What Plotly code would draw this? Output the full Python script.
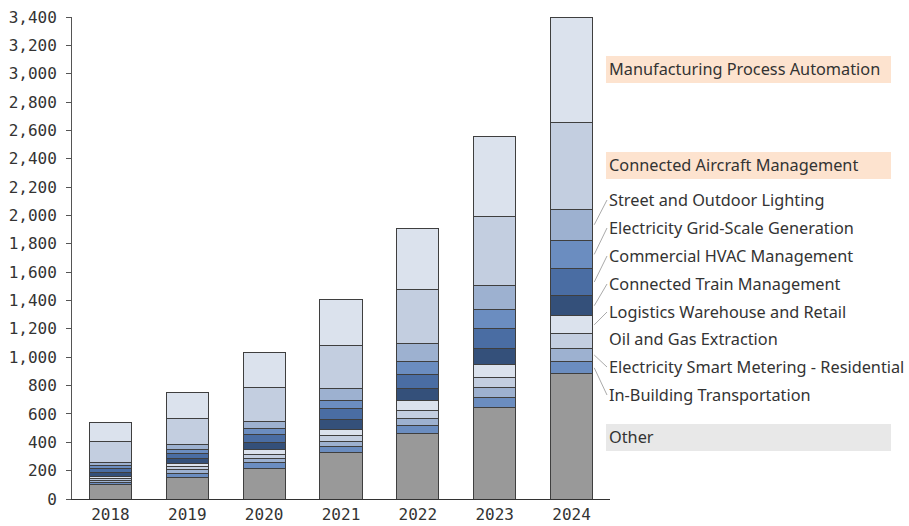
import plotly.graph_objects as go
import numpy as np

years = ["2018", "2019", "2020", "2021", "2022", "2023", "2024"]

# Installed units per application, stacked bottom to top
other = [100, 155, 216, 329, 463, 647, 882]
in_building = [16, 26, 40, 40, 52, 70, 86]
smart_metering = [16, 24, 31, 40, 56, 71, 95]
oil_gas = [14, 22, 28, 38, 56, 70, 101]
logistics = [14, 24, 31, 45, 66, 94, 129]
train = [25, 32, 52, 70, 85, 111, 141]
hvac = [30, 38, 59, 78, 103, 141, 193]
grid_scale = [24, 30, 42, 58, 92, 136, 197]
street_lighting = [20, 32, 47, 83, 122, 169, 221]
aircraft = [145, 188, 243, 305, 386, 485, 612]
manufacturing = [139, 183, 246, 324, 430, 566, 743]

series_names = [
    "Other",
    "In-Building Transportation",
    "Electricity Smart Metering - Residential",
    "Oil and Gas Extraction",
    "Logistics Warehouse and Retail",
    "Connected Train Management",
    "Commercial HVAC Management",
    "Electricity Grid-Scale Generation",
    "Street and Outdoor Lighting",
    "Connected Aircraft Management",
    "Manufacturing Process Automation",
]
series_values = [other, in_building, smart_metering, oil_gas, logistics, train,
                 hvac, grid_scale, street_lighting, aircraft, manufacturing]
series_colors = ["#999999", "#6b8dc0", "#9db1d0", "#c3cee0", "#dbe2ed", "#34507a",
                 "#4a6da3", "#6b8dc0", "#9db1d0", "#c3cee0", "#dbe2ed"]

y_ticks = list(range(0, 3401, 200))

fig = go.Figure()
for name, vals, col in zip(series_names, series_values, series_colors):
    fig.add_trace(go.Bar(
        x=years, y=vals, name=name,
        marker=dict(color=col, line=dict(color="#3f3f3f", width=1)),
        showlegend=False,
    ))

# Layout geometry (pixels)
W, H = 909, 526
L, R, T, B = 72, 299, 17, 27
plot_w = W - L - R
plot_h = H - T - B


def px_to_paper_y(py):
    return (H - B - py) / plot_h


def px_to_paper_x(px):
    return (px - L) / plot_w


# Label positions (pixel centre) in the right-hand key
label_px = {
    "Manufacturing Process Automation": 69,
    "Connected Aircraft Management": 165,
    "Street and Outdoor Lighting": 200,
    "Electricity Grid-Scale Generation": 228,
    "Commercial HVAC Management": 256,
    "Connected Train Management": 284,
    "Logistics Warehouse and Retail": 312,
    "Oil and Gas Extraction": 339,
    "Electricity Smart Metering - Residential": 367,
    "In-Building Transportation": 395,
    "Other": 437,
}
boxed = {
    "Manufacturing Process Automation": "#fde3cf",
    "Connected Aircraft Management": "#fde3cf",
    "Other": "#e8e8e8",
}
with_leader = {
    "Street and Outdoor Lighting",
    "Electricity Grid-Scale Generation",
    "Commercial HVAC Management",
    "Connected Train Management",
    "Logistics Warehouse and Retail",
    "Electricity Smart Metering - Residential",
    "In-Building Transportation",
}

label_font = dict(family="'Noto Sans', Lato, sans-serif", size=16.3, color="#333333")

shapes = []
annotations = []
box_x0, box_x1 = 606, 891
for name in series_names:
    cy = label_px[name]
    if name in boxed:
        shapes.append(dict(
            type="rect", xref="paper", yref="paper",
            x0=px_to_paper_x(box_x0), x1=px_to_paper_x(box_x1),
            y0=px_to_paper_y(cy + 14), y1=px_to_paper_y(cy - 13),
            fillcolor=boxed[name], line=dict(width=0), layer="below",
        ))
    annotations.append(dict(
        xref="paper", yref="paper", x=px_to_paper_x(607), y=px_to_paper_y(cy),
        xanchor="left", yanchor="middle", text=name, showarrow=False,
        font=label_font,
    ))

# Leader lines from the last bar's segments to their labels
last = np.array([v[-1] for v in series_values], dtype=float)
tops = np.cumsum(last)
bottoms = tops - last
bar_w = 0.55
x_edge = len(years) - 1 + bar_w / 2
x_label = (607 - L) / plot_w * len(years) - 0.5
for i, name in enumerate(series_names):
    if name not in with_leader:
        continue
    mid = (tops[i] + bottoms[i]) / 2
    ly = px_to_paper_y(label_px[name]) * 3400
    shapes.append(dict(
        type="line", xref="x", yref="y",
        x0=x_edge + 0.02, y0=mid, x1=x_label, y1=ly,
        line=dict(color="#aaaaaa", width=1),
    ))

fig.update_layout(
    barmode="stack",
    bargap=1 - bar_w,
    width=W, height=H,
    margin=dict(l=L, r=R, t=T, b=B, pad=0, autoexpand=False),
    plot_bgcolor="white",
    paper_bgcolor="white",
    shapes=shapes,
    annotations=annotations,
    xaxis=dict(
        range=[-0.5, len(years) - 0.5],
        showline=True, linecolor="#333333", linewidth=1,
        ticks="", showgrid=False, zeroline=False,
        tickfont=dict(family="DejaVu Sans Mono", size=16, color="#333333"),
        ticklabelstandoff=1,
        automargin=False,
        fixedrange=True,
    ),
    yaxis=dict(
        range=[0, 3400],
        tickvals=y_ticks,
        ticktext=[f"{v:,}" for v in y_ticks],
        showline=True, linecolor="#555555", linewidth=1,
        ticks="outside", ticklen=5, tickcolor="#555555",
        showgrid=False, zeroline=False,
        tickfont=dict(family="DejaVu Sans Mono", size=16, color="#333333"),
        ticklabelstandoff=6,
        automargin=False,
        fixedrange=True,
    ),
)

fig.write_html("out.html")
